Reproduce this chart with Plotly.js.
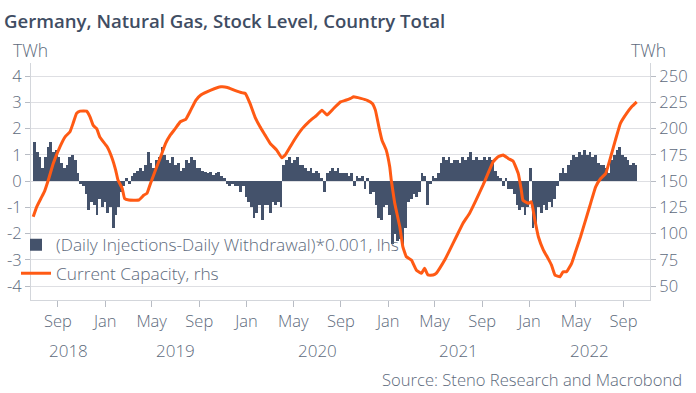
<!DOCTYPE html>
<html><head><meta charset="utf-8">
<script src="https://cdn.plot.ly/plotly-3.0.1.min.js"></script>
<style>html,body{margin:0;padding:0;background:#fff}#chart{width:696px;height:393px}</style>
</head><body><div id="chart"></div>
<script>
// ---- data ----
// weekly net flow (Daily Injections - Daily Withdrawal)*0.001, TWh, lhs; first week centred 2018-07-02 12:00
const flowStart = '2018-07-02 12:00';
const flowStepMs = 7 * 86400000;
const netFlow = [
  1.5,1.1,0.9,0.5,0.9,1.3,1.5,1.1,1.2,0.9,0.7,0.5,0.6,0.9,1.0,0.8,0.3,-0.1,
  -0.2,-0.5,-1.1,-0.8,-0.9,-1.3,-0.7,-1.0,-0.8,-1.2,-1.0,-1.8,-1.3,-1.0,-0.4,-0.2,
  0.1,-0.1,0.2,0.3,0.4,0.5,0.4,0.6,1.1,0.7,0.5,0.8,0.9,1.3,1.0,0.8,0.7,0.9,0.6,0.7,
  0.4,0.5,0.8,0.7,0.9,0.8,0.5,0.5,0.4,0.35,0.3,0.35,0.25,0.3,0.35,0.2,
  0.1,-0.1,-0.2,-0.1,-0.2,-0.2,-0.4,-0.2,-0.6,-0.8,-1.0,-1.4,-1.2,-0.9,-1.5,-0.9,-0.9,-1.2,-0.8,-0.9,-0.8,-1.0,
  0.6,0.8,0.9,0.7,0.8,0.9,0.6,0.6,0.5,0.4,0.5,0.3,0.4,0.3,0.1,-0.4,0.3,0.4,0.5,0.4,0.5,0.3,0.3,
  0.3,0.2,0.3,-0.2,0.2,0.1,0.2,-0.3,0.1,-0.5,-0.4,-0.9,-1.4,-1.5,-1.0,-0.9,-1.3,-2.4,-2.0,-2.3,-2.2,-2.5,-1.8,-0.8,-0.7,-0.5,-0.6,-0.4,
  0.3,0.2,-0.9,-0.1,0.2,0.1,0.3,0.7,0.9,0.8,0.9,0.7,0.8,0.8,0.7,0.9,0.8,0.9,1.1,0.8,0.9,0.8,0.8,0.9,0.8,0.9,0.8,0.4,0.2,0.1,-0.2,0.1,-0.3,
  -0.3,-0.5,-0.9,-1.1,-1.0,-1.3,-1.0,0.5,-1.8,-1.6,-1.0,-1.2,-0.9,-1.1,-0.8,-1.0,-0.7,-0.2,0.3,0.5,0.3,0.6,0.8,1.0,0.9,1.1,1.0,1.2,1.0,1.1,0.9,1.0,0.7,0.6,0.6,0.5,0.3,0.8,1.0,1.2,1.3,1.0,0.9,0.8,0.6,0.7,0.6
];
// Current capacity (stock level), TWh, rhs
const capDates = ['2018-06-29','2018-07-08','2018-07-21','2018-07-29','2018-08-07','2018-08-20','2018-09-06','2018-09-19','2018-10-02','2018-10-10',
  '2018-10-19','2018-10-28','2018-11-14','2018-11-23','2018-12-01','2018-12-10','2018-12-18','2019-01-06','2019-01-19','2019-01-28',
  '2019-02-03','2019-02-14','2019-02-20','2019-03-03','2019-03-29','2019-04-11','2019-04-19','2019-04-28','2019-05-11','2019-05-24',
  '2019-06-06','2019-06-18','2019-07-01','2019-07-14','2019-07-28','2019-08-10','2019-08-23','2019-09-05','2019-10-01','2019-10-27',
  '2019-11-13','2019-11-30','2019-12-22','2019-12-29','2020-01-10','2020-01-23','2020-02-05','2020-02-18','2020-03-02','2020-03-19',
  '2020-04-01','2020-04-10','2020-04-23','2020-05-06','2020-05-24','2020-06-10','2020-07-01','2020-07-14','2020-07-27','2020-08-13',
  '2020-08-31','2020-09-13','2020-09-26','2020-10-04','2020-10-22','2020-11-08','2020-11-21','2020-11-29','2020-12-08','2020-12-16',
  '2020-12-27','2021-01-05','2021-01-09','2021-01-18','2021-01-31','2021-02-08','2021-02-17','2021-03-02','2021-03-15','2021-03-28',
  '2021-04-05','2021-04-14','2021-04-27','2021-05-05','2021-05-14','2021-05-27','2021-06-09','2021-06-26','2021-07-13','2021-07-30',
  '2021-08-16','2021-09-03','2021-09-16','2021-09-29','2021-10-12','2021-10-25','2021-11-07','2021-11-20','2021-12-03','2021-12-11',
  '2021-12-15','2021-12-29','2022-01-06','2022-01-15','2022-01-24','2022-02-06','2022-02-18','2022-02-27','2022-03-08','2022-03-21',
  '2022-03-29','2022-04-07','2022-04-20','2022-04-30','2022-05-13','2022-05-26','2022-06-08','2022-06-21','2022-07-04','2022-07-17',
  '2022-07-30','2022-08-11','2022-08-24','2022-09-09','2022-09-22','2022-10-05'];
const capValues = [116,125.5,135,141,151,167,182.7,192,197,205,
  214.5,216.7,216.7,211,203,200,192,182.7,171.6,160.5,
  151,143,133.5,132,132,136.7,138.3,147.8,160.5,173,
  186,193.8,200,206.5,208.8,217.6,227,232,236.7,239.8,
  239.2,236.7,234,233.5,224,211,201.7,193.8,186,179.5,
  172.2,174.8,182.7,190.6,200,206.5,212.9,217.6,212.9,219.2,
  225.5,227,228.8,230.3,228.8,227,224,217.6,201.7,189,
  179.5,163.6,151,128.8,106.5,87.4,77.9,74.8,65.2,62.1,
  66.9,60.5,60.5,62.1,66.9,74.8,84.3,97,109.7,119.2,
  131.9,146.2,157.3,168.4,173.2,174.8,171.6,169,157.3,141.4,
  131.9,128.8,130.3,112.9,97,84.3,76.4,70,60.5,58.9,
  63.6,63.6,71.6,82.7,97,112.9,128.8,144.6,152.5,157.3,
  173.2,189,205,214.5,220.8,225.5];
const seriesNames = ['(Daily Injections-Daily Withdrawal)*0.001, lhs', 'Current Capacity, rhs'];
const leftTicks = [-4,-3,-2,-1,0,1,2,3,4];
const rightTicks = [50,75,100,125,150,175,200,225,250];
const yearLabels = ['2018','2019','2020','2021','2022'];
const titleText = 'Germany, Natural Gas, Stock Level, Country Total';
const unitText = 'TWh';
const sourceText = 'Source: Steno Research and Macrobond';

// ---- style ----
const FONT = '"Open Sans", "Noto Sans", sans-serif';
const TXT = '#5d6a7c';
const LW = 300;
const xRange = ['2018-06-23 07:00', '2022-11-08 10:00'];

const plotL = 31, plotR = 650, plotT = 63, plotB = 300, W = 696, H = 393;
const pw = plotR - plotL, ph = plotB - plotT;
const px = v => (v - plotL) / pw;
const py = v => (plotB - v) / ph;
const tf = (s) => ({size: s, color: TXT, family: FONT, weight: LW});

const t0 = new Date(xRange[0].replace(' ', 'T') + 'Z').getTime();
const t1 = new Date(xRange[1].replace(' ', 'T') + 'Z').getTime();
const yearAnn = yearLabels.map(y => {
  const a = Math.max(Date.UTC(+y, 0, 1), t0);
  const b = Math.min(Date.UTC(+y + 1, 0, 1), t1);
  return {text: y, x: (a + b) / 2, xref: 'x', y: py(350), yref: 'paper', yanchor: 'middle',
          xanchor: 'center', showarrow: false, font: tf(17)};
});

const traces = [
  {type: 'bar', name: seriesNames[0], x0: flowStart, dx: flowStepMs, y: netFlow,
   width: 7 * 86400000, marker: {color: '#44526b', line: {width: 0}},
   legendgroup: 'a', yaxis: 'y', xaxis: 'x'},
  {type: 'scatter', mode: 'lines', name: seriesNames[1], x: capDates, y: capValues,
   line: {color: '#ff5a14', width: 3, shape: 'spline', smoothing: 0.3},
   legendgroup: 'b', yaxis: 'y2', xaxis: 'x'}
];

const layout = {
  width: W, height: H,
  margin: {l: plotL, r: W - plotR, t: plotT, b: H - plotB, pad: 0},
  paper_bgcolor: '#ffffff', plot_bgcolor: '#ffffff',
  font: {family: FONT, color: TXT, size: 16},
  title: {text: titleText, x: 4 / W, xanchor: 'left', xref: 'container',
          y: 1 - 21 / H, yref: 'container', yanchor: 'middle',
          font: {family: FONT, size: 18.6, weight: 600, color: '#3f4d63'}},
  bargap: 0,
  showlegend: true,
  legend: {x: px(16), y: py(227), xanchor: 'left', yanchor: 'top', bgcolor: 'rgba(0,0,0,0)',
           font: tf(17.3), traceorder: 'grouped', tracegroupgap: 3, itemwidth: 30},
  xaxis: {type: 'date', range: xRange, tickmode: 'linear', tick0: '2018-09-01', dtick: 'M4',
          tickformat: '%b', ticks: 'outside', ticklen: 6, tickcolor: '#b8bcc4', tickwidth: 1,
          showline: true, linecolor: '#d3d6db', linewidth: 1, showgrid: false, zeroline: false,
          tickfont: tf(16.5)},
  yaxis: {range: [-4.53, 4.5], tickmode: 'array', tickvals: leftTicks, ticktext: leftTicks.map(String),
          ticks: 'outside', ticklen: 5, tickcolor: '#b8bcc4', showline: true, linecolor: '#d3d6db',
          gridcolor: '#dedfe3', gridwidth: 1, zeroline: false, tickfont: tf(16.5)},
  yaxis2: {overlaying: 'y', side: 'right', range: [36.75, 262.5], tickmode: 'array', tickvals: rightTicks,
           ticktext: rightTicks.map(String), ticks: 'outside', ticklen: 5, tickcolor: '#b8bcc4',
           showline: true, linecolor: '#d3d6db', showgrid: false, zeroline: false, tickfont: tf(16.5)},
  annotations: [
    {text: unitText, x: px(11), xref: 'paper', xanchor: 'left', y: py(50), yref: 'paper', yanchor: 'middle',
     showarrow: false, font: tf(17.5)},
    {text: unitText, x: px(668), xref: 'paper', xanchor: 'right', y: py(50), yref: 'paper', yanchor: 'middle',
     showarrow: false, font: tf(17.5)},
    {text: sourceText, x: px(684), xref: 'paper', xanchor: 'right', y: py(379), yref: 'paper', yanchor: 'middle',
     showarrow: false, font: tf(16.6)}
  ].concat(yearAnn)
};

Plotly.newPlot('chart', traces, layout, {staticPlot: true, displayModeBar: false});
</script>
</body></html>
